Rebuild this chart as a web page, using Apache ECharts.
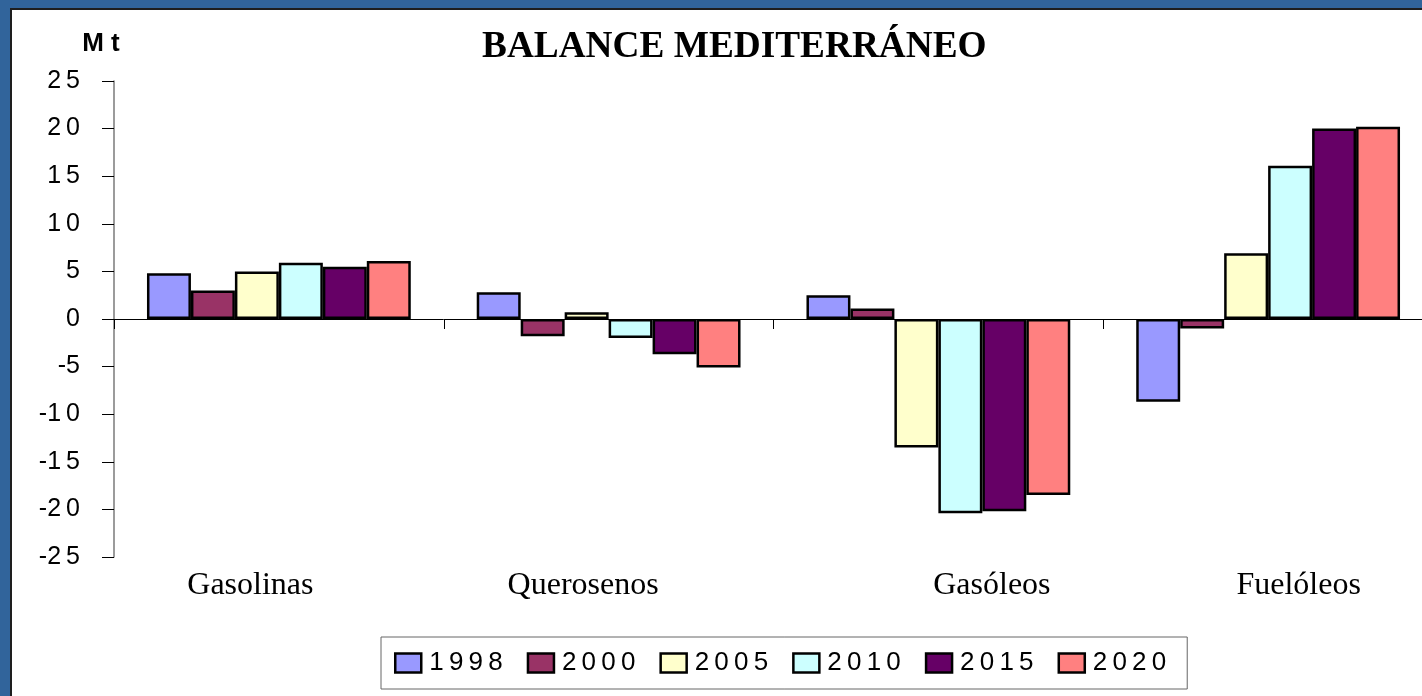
<!DOCTYPE html>
<html><head><meta charset="utf-8">
<script src="https://cdn.jsdelivr.net/npm/echarts@6/dist/echarts.min.js"></script>
<style>html,body{margin:0;padding:0;background:#fff;overflow:hidden;}#c{width:1440px;height:696px;}</style>
</head><body><div id="c"></div>
<script>
// ---- data ----
const categories = ['Gasolinas', 'Querosenos', 'Gasóleos', 'Fuelóleos'];
const years = ['1998', '2000', '2005', '2010', '2015', '2020'];
const v1998 = [4.8, 2.8, 2.5, -8.7];
const v2000 = [3.0, -1.8, 1.1, -1.0];
const v2005 = [5.0, 0.7, -13.5, 6.9];
const v2010 = [5.9, -2.0, -20.4, 16.1];
const v2015 = [5.5, -3.7, -20.2, 20.0];
const v2020 = [6.1, -5.1, -18.5, 20.2];
const yMin = -25, yMax = 25, yStep = 5;
const titleText = 'BALANCE MEDITERRÁNEO';
const unitText = 'M t';

// ---- styles ----
const seriesValues = [v1998, v2000, v2005, v2010, v2015, v2020];
const colors = ['#9999FF', '#993366', '#FFFFCC', '#CCFFFF', '#660066', '#FF8080'];
const sans = '"Liberation Sans", Arial, sans-serif';
const serif = '"Liberation Serif", "Times New Roman", serif';
const spaced = s => String(s).split('').join('\u2009');
const labelPad = [[0, 57, 0, 0], [0, 51, 0, 0], [0, 0, 0, 107], [0, 0, 0, 61]];
const rich = {};
labelPad.forEach((p, i) => { rich['c' + i] = { fontFamily: serif, fontSize: 32, color: '#000', padding: p }; });

const chart = echarts.init(document.getElementById('c'), null, { renderer: 'canvas' });
chart.setOption({
  animation: false,
  backgroundColor: '#ffffff',
  title: {
    text: titleText,
    left: 477, top: 24,
    textStyle: { fontFamily: serif, fontWeight: 'bold', fontSize: 37.3, color: '#000' }
  },
  graphic: [
    { type: 'rect', shape: { x: 0, y: 0, width: 1440, height: 8 }, style: { fill: '#31649B' }, silent: true },
    { type: 'rect', shape: { x: 0, y: 0, width: 10, height: 696 }, style: { fill: '#31649B' }, silent: true },
    { type: 'rect', shape: { x: 10, y: 8, width: 1430, height: 2 }, style: { fill: '#1e1e1e' }, silent: true },
    { type: 'rect', shape: { x: 10, y: 8, width: 2, height: 688 }, style: { fill: '#1e1e1e' }, silent: true },
    { type: 'text', x: 101, y: 57, style: { text: unitText, fontFamily: sans, fontWeight: 'bold', fontSize: 26, fill: '#000', textAlign: 'center', textVerticalAlign: 'bottom' }, silent: true }
  ],
  legend: {
    data: years,
    left: 381, top: 637,
    orient: 'horizontal',
    padding: [13, 21, 13, 13],
    itemGap: 24,
    itemWidth: 26, itemHeight: 19,
    borderColor: '#666', borderWidth: 1,
    icon: 'rect',
    formatter: name => '{t|' + spaced(name) + '}',
    textStyle: { fontFamily: sans, fontSize: 26, color: '#000', rich: { t: { fontFamily: sans, fontSize: 26, color: '#000', padding: [0, 0, 0, 3] } } },
    itemStyle: { borderColor: '#000', borderWidth: 2.5 }
  },
  grid: { left: 114, top: 81, width: 1319, height: 476, containLabel: false },
  xAxis: [
    {
      type: 'category', data: categories, position: 'bottom',
      axisLine: { show: false, onZero: false }, axisTick: { show: false },
      axisLabel: {
        interval: 0, margin: 13,
        formatter: (v, i) => '{c' + i + '|' + v + '}',
        rich: rich, fontFamily: serif, fontSize: 32, color: '#000'
      }
    },
    {
      type: 'category', data: categories, position: 'bottom',
      axisLine: { show: true, onZero: true, lineStyle: { color: '#000', width: 1 } },
      axisTick: { show: true, length: 10, lineStyle: { color: '#000', width: 1 } },
      axisLabel: { show: false }
    }
  ],
  yAxis: {
    type: 'value', min: yMin, max: yMax, interval: yStep,
    axisLine: { show: true, lineStyle: { color: '#7a7a7a', width: 1.5 } },
    axisTick: { show: true, length: 12, lineStyle: { color: '#000', width: 1 } },
    splitLine: { show: false },
    axisLabel: {
      margin: 34, fontFamily: sans, fontSize: 25, color: '#000',
      formatter: v => (v < 0 ? '-' : '') + spaced(Math.abs(v))
    }
  },
  series: years.map((y, i) => ({
    name: y, type: 'bar', xAxisIndex: 0,
    data: seriesValues[i],
    barGap: '0%', barCategoryGap: '20%',
    itemStyle: { color: colors[i], borderColor: '#000', borderWidth: 2.5 }
  }))
});
</script></body></html>
